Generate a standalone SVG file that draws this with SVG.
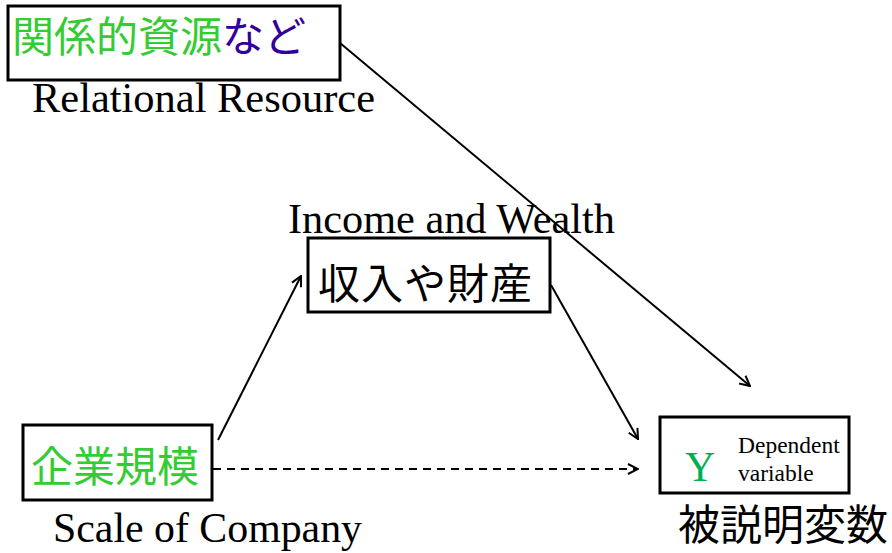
<svg xmlns="http://www.w3.org/2000/svg" width="892" height="553" viewBox="0 0 892 553">
<style>
.box{fill:#fff;stroke:#000;stroke-width:3}
.jp{font-family:"Noto Sans CJK JP","Noto Sans",sans-serif;font-size:42px}
.en{font-family:"Liberation Serif","Times New Roman",serif;font-size:42px;fill:#000}
.sm{font-family:"Liberation Serif","Times New Roman",serif;font-size:23.5px;fill:#000}
.line{stroke:#000;stroke-width:2;fill:none}
.green{fill:#33cc33}
</style>
<defs>
<marker id="arr" viewBox="0 0 12 12" refX="11" refY="6" markerWidth="12" markerHeight="12" markerUnits="userSpaceOnUse" orient="auto">
<path d="M1,1 L11,6 L1,11" fill="none" stroke="#000" stroke-width="2"/>
</marker>
</defs>
<rect width="892" height="553" fill="#fff"/>
<g id="connectors">
<line class="line" x1="340" y1="43" x2="750" y2="386" marker-end="url(#arr)"/>
<line class="line" x1="218" y1="440" x2="301" y2="276" marker-end="url(#arr)"/>
<line class="line" x1="551" y1="285" x2="638" y2="439" marker-end="url(#arr)"/>
<line class="line" x1="213" y1="469" x2="638" y2="469" stroke-dasharray="8,6" marker-end="url(#arr)"/>
</g>
<g id="relational">
<rect class="box" x="8" y="6" width="332" height="74"/>
<text class="jp" x="12" y="52"><tspan class="green">関係的資源</tspan><tspan fill="#330099">など</tspan></text>
<text class="en" x="32" y="112" textLength="343" lengthAdjust="spacingAndGlyphs">Relational Resource</text>
</g>
<g id="income">
<text class="en" x="288" y="233" textLength="327" lengthAdjust="spacingAndGlyphs">Income and Wealth</text>
<rect class="box" x="308" y="238" width="242" height="74"/>
<text class="jp" x="318" y="299" fill="#000" letter-spacing="1">収入や財産</text>
</g>
<g id="scale">
<rect class="box" x="23" y="425" width="189" height="75"/>
<text class="jp green" x="31" y="482">企業規模</text>
<text class="en" x="53" y="542" textLength="309" lengthAdjust="spacingAndGlyphs">Scale of Company</text>
</g>
<g id="dependent">
<rect class="box" x="660" y="417" width="189" height="76"/>
<text class="en" x="685" y="481" style="fill:#00b050">Y</text>
<text class="sm" x="738" y="453">Dependent</text>
<text class="sm" x="738" y="481">variable</text>
<text class="jp" x="678" y="540" fill="#000">被説明変数</text>
</g>
</svg>
